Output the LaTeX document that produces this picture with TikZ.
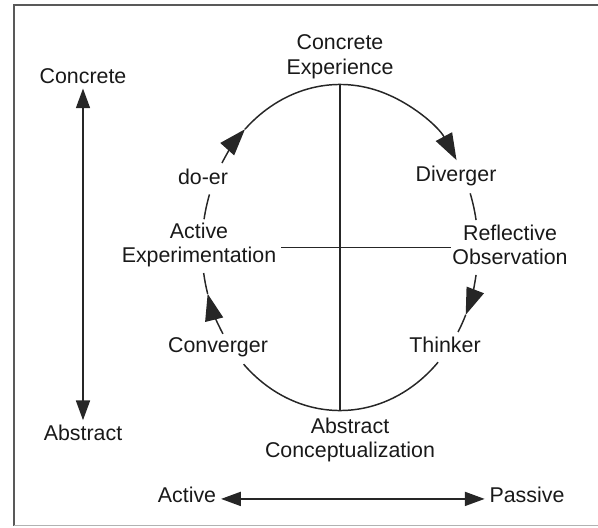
\documentclass[tikz,border=0pt]{standalone}
\usepackage{fontspec}
\setmainfont{Liberation Sans}
\usetikzlibrary{arrows.meta}

\begin{document}
\begin{tikzpicture}[x=0.025cm, y=0.025cm,
   lab/.style={font=\fontsize{15.2}{17.5}\selectfont, align=center, text=black!90},
   ring/.style={line width=1.05pt, draw=black!85},
   tip/.style={-{Triangle[length=19pt,width=13pt]}},
   axis/.style={line width=1pt, draw=black!85, {Triangle[length=14pt,width=10pt]}-{Triangle[length=14pt,width=10pt]}}]

   \useasboundingbox (0,0) rectangle (598,527);

   \draw[line width=1.4pt, draw=black!65] (598,522) -- (14,522) -- (14,1.5);
   \draw[line width=1.2pt, draw=black!30] (14,1.5) -- (598,1.5);

   \coordinate (hub) at (340,279.5);
   \coordinate (top) at (340,442.5);
   \coordinate (bottom) at (340,116.5);

   \node[lab] (concexp) at (340,470) {Concrete\\Experience};
   \node[lab] (diverger) at (456,351) {Diverger};
   \node[lab, inner sep=1pt] (refobs) at (510,282) {Reflective\\Observation};
   \node[lab] (thinker) at (445,182) {Thinker};
   \node[lab] (absconc) at (350,87) {Abstract\\Conceptualization};
   \node[lab] (converger) at (218,180) {Converger};
   \node[lab] (actexp) at (199,282) {Active\\Experimentation};
   \node[lab] (doer) at (203,350) {do-er};

   \node[lab] (concrete) at (83,451) {Concrete};
   \node[lab] (abstract) at (83,94) {Abstract};
   \node[lab] (active) at (187,32) {Active};
   \node[lab] (passive) at (527,32) {Passive};

   \draw[ring] (top) -- (bottom);
   \draw[ring] (actexp.east |- hub) -- (refobs.west |- hub);

   \draw[ring, tip] (hub) ++(148.8:3.45cm and 4.075cm) arc[start angle=148.8, end angle=133.5, x radius=3.45cm, y radius=4.075cm];
   \draw[ring, tip] (hub) ++(133.5:3.45cm and 4.075cm) arc[start angle=133.5, end angle=32.4, x radius=3.45cm, y radius=4.075cm];
   \draw[ring] (hub) ++(19.4:3.45cm and 4.075cm) arc[start angle=19.4, end angle=9.7, x radius=3.45cm, y radius=4.075cm];
   \draw[ring, tip] (hub) ++(-9.7:3.45cm and 4.075cm) arc[start angle=-9.7, end angle=-24.4, x radius=3.45cm, y radius=4.075cm];
   \draw[ring] (hub) ++(-24.4:3.45cm and 4.075cm) arc[start angle=-24.4, end angle=-31.2, x radius=3.45cm, y radius=4.075cm];
   \draw[ring] (hub) ++(-44.7:3.45cm and 4.075cm) arc[start angle=-44.7, end angle=-134.3, x radius=3.45cm, y radius=4.075cm];
   \draw[ring, tip] (hub) ++(-148:3.45cm and 4.075cm) arc[start angle=-148, end angle=-163.5, x radius=3.45cm, y radius=4.075cm];
   \draw[ring] (hub) ++(-163.5:3.45cm and 4.075cm) arc[start angle=-163.5, end angle=-171, x radius=3.45cm, y radius=4.075cm];
   \draw[ring] (hub) ++(-190:3.45cm and 4.075cm) arc[start angle=-190, end angle=-199, x radius=3.45cm, y radius=4.075cm];

   \draw[axis] (concrete) -- (abstract);
   \draw[axis] (active.mid east) -- (passive.mid west);

\end{tikzpicture}
\end{document}
